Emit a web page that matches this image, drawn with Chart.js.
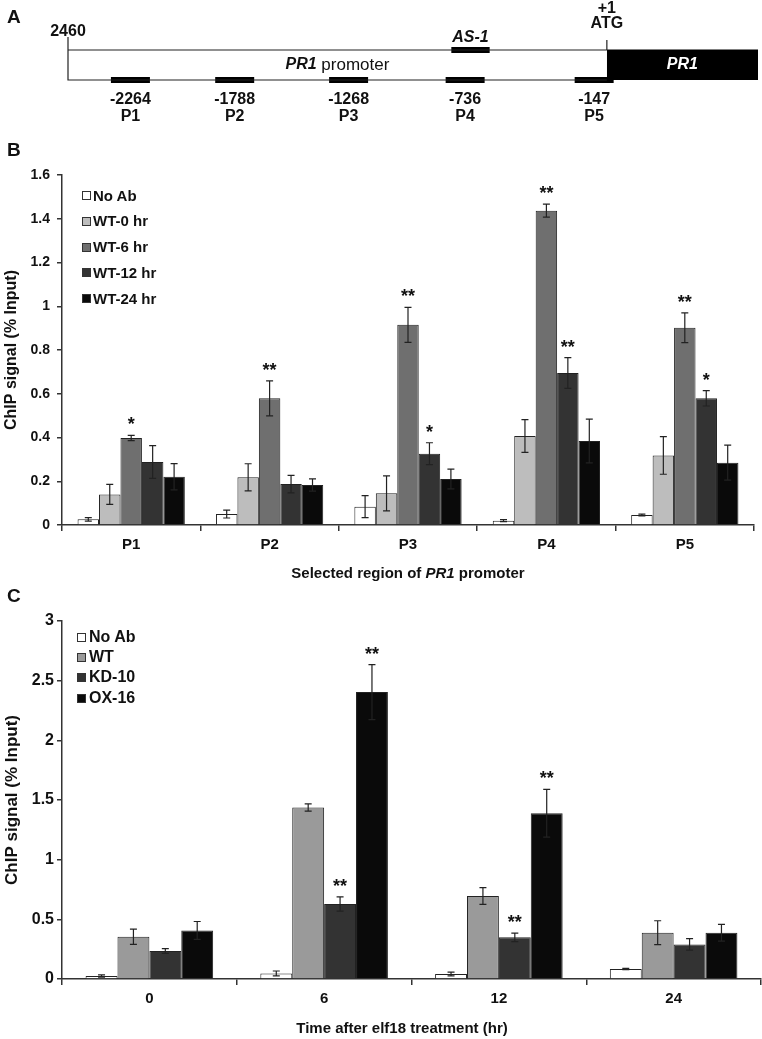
<!DOCTYPE html>
<html>
<head>
<meta charset="utf-8">
<script src="https://cdn.jsdelivr.net/npm/chart.js@4.4.1/dist/chart.umd.min.js"></script>
<style>
  body { margin: 0; background: #fff; }
  #page { position: relative; width: 762px; height: 1039px; overflow: hidden; font-family: 'Liberation Sans', Arial, sans-serif; color: #111; }
  canvas { position: absolute; left: 0; }
  .txt { position: absolute; font-weight: bold; white-space: nowrap; }
  .key { position: absolute; width: 7px; height: 7px; border: 1px solid #333; }
</style>
</head>
<body>
<div id="page">
  <canvas id="chartA" width="762" height="130" style="top:0"></canvas>
  <canvas id="chartB" width="762" height="440" style="top:150px"></canvas>
  <canvas id="chartC" width="762" height="444" style="top:595px"></canvas>
</div>
<script>
const FONT = "'Liberation Sans', Arial, sans-serif";

// Panel A - promoter map (bp, relative to ATG)
const promoterStart = -2460;
const geneEnd = 690;
const primerNames = ['P1', 'P2', 'P3', 'P4', 'P5'];
const primerSites = [-2264, -1788, -1268, -736, -147];
const ampliconLength = 178;
const as1Site = [-710, -535];

// Panel B - ChIP along PR1 promoter
const categoriesB = ['P1', 'P2', 'P3', 'P4', 'P5'];
const seriesB = ['No Ab', 'WT-0 hr', 'WT-6 hr', 'WT-12 hr', 'WT-24 hr'];
const noAbB = [0.026, 0.05, 0.084, 0.02, 0.046];
const noAbErrB = [0.008, 0.018, 0.05, 0.005, 0.004];
const wt0B = [0.14, 0.218, 0.145, 0.407, 0.318];
const wt0ErrB = [0.046, 0.062, 0.08, 0.075, 0.086];
const wt6B = [0.398, 0.579, 0.915, 1.437, 0.902];
const wt6ErrB = [0.012, 0.08, 0.08, 0.03, 0.068];
const wt12B = [0.288, 0.187, 0.326, 0.695, 0.579];
const wt12ErrB = [0.075, 0.04, 0.05, 0.07, 0.035];
const wt24B = [0.221, 0.183, 0.21, 0.384, 0.285];
const wt24ErrB = [0.06, 0.028, 0.045, 0.1, 0.08];
const wt6StarsB = ['*', '**', '**', '**', '**'];
const wt12StarsB = ['', '', '*', '**', '*'];
const colorsB = ['#ffffff', '#bdbdbd', '#6f6f6f', '#333333', '#0a0a0a'];

// Panel C - time course per line
const categoriesC = ['0', '6', '12', '24'];
const seriesC = ['No Ab', 'WT', 'KD-10', 'OX-16'];
const noAbC = [0.025, 0.047, 0.042, 0.084];
const noAbErrC = [0.01, 0.02, 0.015, 0.005];
const wtC = [0.354, 1.437, 0.695, 0.388];
const wtErrC = [0.064, 0.03, 0.07, 0.1];
const kdC = [0.234, 0.628, 0.349, 0.29];
const kdErrC = [0.02, 0.06, 0.035, 0.048];
const oxC = [0.407, 2.404, 1.389, 0.388];
const oxErrC = [0.075, 0.23, 0.2, 0.07];
const kdStarsC = ['', '**', '**', ''];
const oxStarsC = ['', '**', '**', ''];
const colorsC = ['#ffffff', '#9a9a9a', '#333333', '#0a0a0a'];

const page = document.getElementById('page');

// html text helper, y is the visual centre of the line
function addText(html, x, y, size, align) {
  const el = document.createElement('div');
  el.className = 'txt';
  el.innerHTML = html;
  el.style.fontSize = size + 'px';
  el.style.lineHeight = size + 'px';
  el.style.top = (y - size / 2) + 'px';
  el.style.left = x + 'px';
  if (align === 'center') el.style.transform = 'translateX(-50%)';
  page.appendChild(el);
}

function addLegend(names, colors, boxX, textX, firstY, step, size) {
  names.forEach((name, i) => {
    const y = firstY + i * step;
    const box = document.createElement('div');
    box.className = 'key';
    box.style.left = boxX + 'px';
    box.style.top = (y - 4) + 'px';
    box.style.background = colors[i];
    page.appendChild(box);
    addText(name, textX, y, size);
  });
}

// panel letters and axis titles
addText('A', 7, 16, 19);
addText('B', 7, 149, 19);
addText('C', 7, 595, 19);
addText('Selected region of <i>PR1</i> promoter', 408, 572, 15, 'center');
addText('Time after elf18 treatment (hr)', 402, 1027, 15, 'center');
addLegend(seriesB, colorsB, 82, 93, 195, 25.8, 15);
addLegend(seriesC, colorsC, 77, 89, 637, 20.2, 16);

// error bars + significance marks
const errorBars = {
  id: 'errorBars',
  afterDatasetsDraw(chart) {
    const ctx = chart.ctx;
    const yScale = chart.scales.y;
    chart.data.datasets.forEach((ds, i) => {
      const meta = chart.getDatasetMeta(i);
      meta.data.forEach((bar, j) => {
        const v = ds.data[j];
        const e = ds.err[j];
        const top = yScale.getPixelForValue(v + e);
        const bot = yScale.getPixelForValue(Math.max(0, v - e));
        ctx.save();
        ctx.strokeStyle = '#222';
        ctx.lineWidth = 1.2;
        ctx.beginPath();
        ctx.moveTo(bar.x, top); ctx.lineTo(bar.x, bot);
        ctx.moveTo(bar.x - 3.5, top); ctx.lineTo(bar.x + 3.5, top);
        ctx.moveTo(bar.x - 3.5, bot); ctx.lineTo(bar.x + 3.5, bot);
        ctx.stroke();
        if (ds.stars && ds.stars[j]) {
          ctx.fillStyle = '#111';
          ctx.font = 'bold 18px ' + FONT;
          ctx.textAlign = 'center';
          ctx.textBaseline = 'alphabetic';
          ctx.fillText(ds.stars[j], bar.x, top - 5);
        }
        ctx.restore();
      });
    });
  }
};

function barSet(label, data, err, color, pct, stars) {
  return {
    label: label, data: data, err: err, stars: stars,
    backgroundColor: color, borderColor: '#222', borderWidth: 1,
    categoryPercentage: pct, barPercentage: 1
  };
}

function axisOptions(maxY, step, tickSize, tickPad, xHeight, xSize, titleSize) {
  return {
    x: {
      offset: true,
      grid: { offset: true, drawOnChartArea: false, tickLength: 6, color: '#333', lineWidth: 1.5 },
      border: { color: '#333', width: 1.5 },
      ticks: { color: '#111', padding: 5, font: { family: FONT, size: xSize, weight: 'bold' } },
      afterFit: a => { a.height = xHeight; }
    },
    y: {
      min: 0, max: maxY,
      grid: { drawOnChartArea: false, tickLength: 5, color: '#333', lineWidth: 1.5 },
      border: { color: '#333', width: 1.5 },
      ticks: {
        stepSize: step, color: '#111', padding: tickPad,
        font: { family: FONT, size: tickSize, weight: 'bold' },
        callback: v => String(+v.toFixed(1))
      },
      title: {
        display: true, text: 'ChIP signal (% Input)', color: '#111',
        font: { family: FONT, size: titleSize, weight: 'bold' }, padding: { top: 2, bottom: 0 }
      },
      afterFit: a => { a.width = 62; }
    }
  };
}

new Chart(document.getElementById('chartB'), {
  type: 'bar',
  data: {
    labels: categoriesB,
    datasets: [
      barSet(seriesB[0], noAbB, noAbErrB, colorsB[0], 0.775),
      barSet(seriesB[1], wt0B, wt0ErrB, colorsB[1], 0.775),
      barSet(seriesB[2], wt6B, wt6ErrB, colorsB[2], 0.775, wt6StarsB),
      barSet(seriesB[3], wt12B, wt12ErrB, colorsB[3], 0.775, wt12StarsB),
      barSet(seriesB[4], wt24B, wt24ErrB, colorsB[4], 0.775)
    ]
  },
  options: {
    responsive: false, animation: false,
    layout: { padding: { top: 25, right: 8, left: 0, bottom: 0 } },
    plugins: { legend: { display: false }, tooltip: { enabled: false } },
    scales: axisOptions(1.6, 0.2, 14, 7, 65, 15, 16)
  },
  plugins: [errorBars]
});

new Chart(document.getElementById('chartC'), {
  type: 'bar',
  data: {
    labels: categoriesC,
    datasets: [
      barSet(seriesC[0], noAbC, noAbErrC, colorsC[0], 0.73),
      barSet(seriesC[1], wtC, wtErrC, colorsC[1], 0.73),
      barSet(seriesC[2], kdC, kdErrC, colorsC[2], 0.73, kdStarsC),
      barSet(seriesC[3], oxC, oxErrC, colorsC[3], 0.73, oxStarsC)
    ]
  },
  options: {
    responsive: false, animation: false,
    layout: { padding: { top: 26, right: 1, left: 0, bottom: 0 } },
    plugins: { legend: { display: false }, tooltip: { enabled: false } },
    scales: axisOptions(3, 0.5, 16, 3, 60, 15, 17)
  },
  plugins: [errorBars]
});

// Panel A as a line chart in bp coordinates
function segments(starts, len, level) {
  const pts = [];
  starts.forEach(s => {
    pts.push({ x: s, y: level }, { x: s + len, y: level }, { x: s + len, y: null });
  });
  return pts;
}

const thin = { type: 'scatter', showLine: true, pointRadius: 0, borderColor: '#222', borderWidth: 1.2, clip: false, spanGaps: false };

const mapLabels = {
  id: 'mapLabels',
  afterDraw(chart) {
    const ctx = chart.ctx;
    const xs = chart.scales.x, ys = chart.scales.y;
    const put = (text, bp, level, font, color) => {
      ctx.font = font;
      ctx.fillStyle = color || '#111';
      ctx.textAlign = 'center';
      ctx.textBaseline = 'middle';
      ctx.fillText(text, xs.getPixelForValue(bp), ys.getPixelForValue(level));
    };
    const bold = 'bold 16px ' + FONT;
    const boldItalic = 'italic bold 16px ' + FONT;
    put('2460', promoterStart, 1.6, bold);
    put('+1', 0, 2.38, bold);
    put('ATG', 0, 1.88, bold);
    put('AS-1', (as1Site[0] + as1Site[1]) / 2, 1.4, boldItalic);
    put('PR1', geneEnd / 2, 0.5, boldItalic, '#fff');
    primerSites.forEach((s, i) => {
      put(String(s), s + ampliconLength / 2, -0.65, bold);
      put(primerNames[i], s + ampliconLength / 2, -1.22, bold);
    });
    // "PR1 promoter" with italic gene name
    const a = 'PR1', b = ' promoter';
    const fb = '17px ' + FONT;
    ctx.font = boldItalic; const wa = ctx.measureText(a).width;
    ctx.font = fb; const wb = ctx.measureText(b).width;
    const cx = xs.getPixelForValue(promoterStart / 2) - (wa + wb) / 2;
    const cy = ys.getPixelForValue(0.5);
    ctx.textAlign = 'left'; ctx.textBaseline = 'middle'; ctx.fillStyle = '#111';
    ctx.font = boldItalic; ctx.fillText(a, cx, cy);
    ctx.font = fb; ctx.fillText(b, cx + wa, cy);
  }
};

new Chart(document.getElementById('chartA'), {
  type: 'scatter',
  data: {
    datasets: [
      Object.assign({}, thin, { data: [{ x: promoterStart, y: 1.43 }, { x: promoterStart, y: 0 }, { x: 0, y: 0 }] }),
      Object.assign({}, thin, { data: [{ x: promoterStart, y: 1 }, { x: 0, y: 1 }] }),
      Object.assign({}, thin, { data: [{ x: 0, y: 1 }, { x: 0, y: 1.33 }] }),
      Object.assign({}, thin, { data: [{ x: 0, y: 1 }, { x: geneEnd, y: 1 }], borderColor: '#000', fill: { value: 0 }, backgroundColor: '#000' }),
      Object.assign({}, thin, { data: segments(primerSites, ampliconLength, 0), borderColor: '#000', borderWidth: 6, borderCapStyle: 'butt' }),
      Object.assign({}, thin, { data: segments([as1Site[0]], as1Site[1] - as1Site[0], 1), borderColor: '#000', borderWidth: 6, borderCapStyle: 'butt' })
    ]
  },
  options: {
    responsive: false, animation: false,
    layout: { padding: { left: 68, right: 4, top: 0, bottom: 0 } },
    plugins: { legend: { display: false }, tooltip: { enabled: false } },
    scales: {
      x: { type: 'linear', min: promoterStart, max: geneEnd, display: false },
      y: { type: 'linear', min: -1.667, max: 2.667, display: false }
    }
  },
  plugins: [mapLabels]
});
</script>
</body>
</html>
